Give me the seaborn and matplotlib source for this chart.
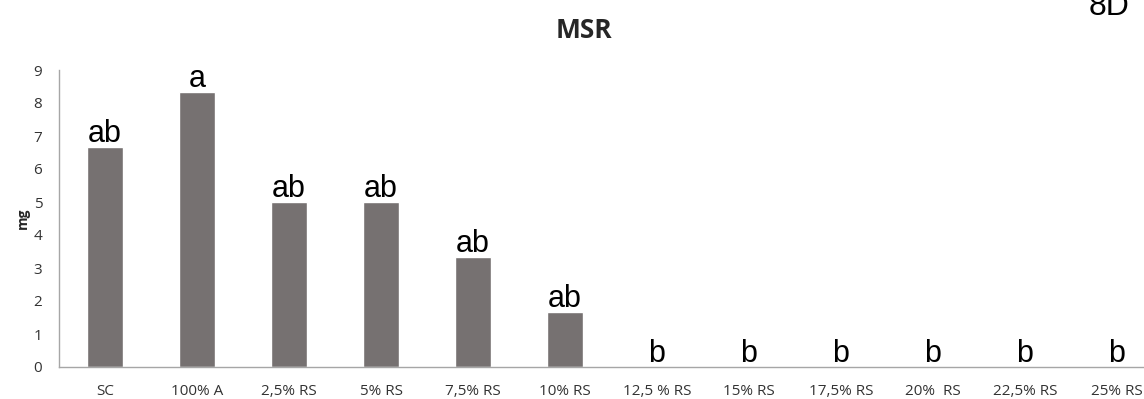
import matplotlib
matplotlib.use("Agg")
import matplotlib.pyplot as plt
import seaborn as sns
import pandas as pd
from matplotlib.ticker import FixedLocator

categories = ["SC", "100% A", "2,5% RS", "5% RS", "7,5% RS", "10% RS",
              "12,5 % RS", "15% RS", "17,5% RS", "20%  RS", "22,5% RS", "25% RS"]
values = [6.67, 8.33, 5.0, 5.0, 3.33, 1.67, 0, 0, 0, 0, 0, 0]
letters = ["ab", "a", "ab", "ab", "ab", "ab", "b", "b", "b", "b", "b", "b"]
yticks = [0, 1, 2, 3, 4, 5, 6, 7, 8, 9]

df = pd.DataFrame({"group": categories, "mg": values})

sns.set_theme(style="white")
plt.rcParams["font.family"] = ["Open Sans", "DejaVu Sans"]

fig = plt.figure(figsize=(11.44, 3.99), dpi=100)
ax = fig.add_axes([59 / 1144, 32 / 399, 1104 / 1144, 297 / 399])

bar_color = "#767171"
sns.barplot(data=df, x="group", y="mg", color=bar_color, width=0.4,
            saturation=1, ax=ax, order=categories)

ax.set_xlim(-0.5, len(categories) - 0.5)
ax.set_ylim(0, 9)
ax.set_yticks(yticks)

axis_grey = "#a6a6a6"
for side in ["top", "right"]:
    ax.spines[side].set_visible(False)
for side in ["left", "bottom"]:
    ax.spines[side].set_color(axis_grey)
    ax.spines[side].set_linewidth(1.0)

ax.tick_params(axis="x", which="major", length=0, pad=12, labelsize=11, labelcolor="#333333")
ax.xaxis.set_minor_locator(FixedLocator([i - 0.5 for i in range(len(categories) + 1)]))
ax.tick_params(axis="x", which="minor", length=4, width=1, color=axis_grey, direction="out")
ax.tick_params(axis="y", which="major", length=4, width=1, color=axis_grey, direction="in",
               pad=12, labelsize=11, labelcolor="#333333")

ax.set_xlabel("")
ax.set_ylabel("mg", fontsize=10, fontweight="bold", labelpad=3)

# significance letters above each bar
for i, (v, lab) in enumerate(zip(values, letters)):
    ax.annotate(lab, xy=(i, v), xytext=(0, 3.6), textcoords="offset points",
                ha="center", va="baseline", fontsize=22, family="Liberation Sans",
                color="black")

fig.text(584 / 1144, 1 - 31 / 399, "MSR", ha="center", va="center",
         fontsize=19, fontweight="bold", color="#262626")
fig.text(1089 / 1144, 1 - 15 / 399, "8D", ha="left", va="baseline",
         fontsize=23, family="Liberation Sans", color="black")

fig.savefig("out.png", dpi=100)
